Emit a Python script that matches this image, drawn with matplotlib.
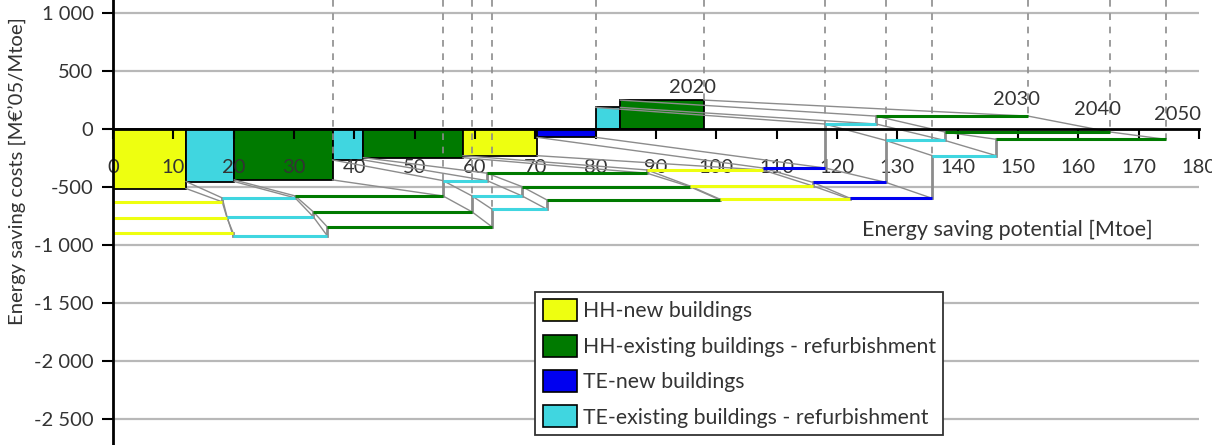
import numpy as np
import matplotlib.pyplot as plt
from matplotlib.patches import Patch

plt.rcParams['font.family'] = ['Lato', 'DejaVu Sans']

# categories and colours
cat_names = ['HH-new buildings', 'HH-existing buildings - refurbishment',
             'TE-new buildings', 'TE-existing buildings - refurbishment']
cat_colors = ['#EEFF10', '#007A00', '#0000F0', '#40D6E0']

# order of measures along every curve (index into cat_names)
seg_cats = [0, 3, 1, 3, 1, 0, 2, 3, 1]

years = [2020, 2030, 2040, 2050]
# cumulative potential at the end of each step [Mtoe]
ends_2020 = [12.1, 20.1, 36.4, 41.5, 58.0, 70.3, 80.0, 84.1, 98.0]
ends_2030 = [18.1, 30.2, 54.7, 62.0, 88.5, 107.7, 118.0, 126.5, 151.7]
ends_2040 = [18.9, 33.2, 59.5, 67.8, 95.6, 116.0, 128.1, 137.9, 165.3]
ends_2050 = [19.9, 35.5, 62.8, 71.9, 100.6, 122.2, 135.8, 146.4, 174.5]
# saving costs of each step [M€'05/Mtoe]
costs_2020 = [-510, -450, -436, -264, -244, -227, -69, 189, 252]
costs_2030 = [-625, -591, -574, -442, -378, -350, -333, 46, 114]
costs_2040 = [-763, -754, -711, -574, -494, -488, -457, -96, -23]
costs_2050 = [-892, -917, -840, -688, -608, -602, -595, -227, -86]

x_ticks = list(range(0, 181, 10))
y_ticks = [1000, 500, 0, -500, -1000, -1500, -2000, -2500]
y_tick_labels = ['1 000', '500', '0', '-500', '-1 000', '-1 500', '-2 000', '-2 500']

all_ends = [ends_2020, ends_2030, ends_2040, ends_2050]
all_costs = [costs_2020, costs_2030, costs_2040, costs_2050]
breaks = [2, 6, 8]  # steps after which the curve jumps (dashed markers)

GRAY = '#8c8c8c'
TXT = '#333333'
YTOP = 1115

fig = plt.figure(figsize=(12.12, 4.45), dpi=100)
ax = fig.add_axes([113 / 1212, 0, 1086 / 1212, 1])
ax.set_xlim(0, 180)
ax.set_ylim(-2721, YTOP)

for y in y_ticks:
    if y != 0:
        ax.axhline(y, color='#b8b8b8', lw=1.6, zorder=0.5)

starts = [[0] + e[:-1] for e in all_ends]

# 2020 as bars
e0, c0, s0 = all_ends[0], all_costs[0], starts[0]
for i in range(len(e0)):
    ax.bar(s0[i], c0[i], width=e0[i] - s0[i], align='edge',
           color=cat_colors[seg_cats[i]], edgecolor='black', lw=1.3, zorder=1)

# later years as step lines
for k in range(1, len(years)):
    e, c, s = all_ends[k], all_costs[k], starts[k]
    for i in range(len(e)):
        ax.plot([s[i], e[i]], [c[i], c[i]], color=cat_colors[seg_cats[i]],
                lw=2.2, zorder=3, solid_capstyle='butt')
        if i + 1 < len(e):
            ax.plot([e[i], e[i]], [c[i], c[i + 1]], color=GRAY, lw=2, zorder=2.6)

# connectors between years
for k in range(len(years) - 1):
    for i in range(len(seg_cats)):
        ax.plot([starts[k][i], starts[k + 1][i]], [all_costs[k][i], all_costs[k + 1][i]],
                color=GRAY, lw=1, zorder=2)
        ax.plot([all_ends[k][i], all_ends[k + 1][i]], [all_costs[k][i], all_costs[k + 1][i]],
                color=GRAY, lw=1, zorder=2)

# dashed markers
for k in range(len(years)):
    e, c = all_ends[k], all_costs[k]
    for b in breaks:
        low = c[b] if b + 1 >= len(c) else max(c[b], c[b + 1])
        ax.plot([e[b], e[b]], [YTOP, low], color=GRAY, lw=1.2, ls=(0, (4, 4)), zorder=2.2)

# year labels
label_pos = [(96.0, 290), (149.8, 180), (163.1, 100), (176.5, 56)]
for yr, (lx, ly) in zip(years, label_pos):
    ax.text(lx, ly, str(yr), ha='center', va='bottom', fontsize=14.5, color=TXT, zorder=4)

ax.text(148.2, -866, 'Energy saving potential [Mtoe]', ha='center', va='center',
        fontsize=15.5, color=TXT)
fig.text(18 / 1212, 1 - 171 / 445, 'Energy saving costs [M€’05/Mtoe]', rotation=90,
         ha='center', va='center', fontsize=14.6, color=TXT)

for side in ['top', 'right']:
    ax.spines[side].set_visible(False)
ax.spines['bottom'].set_position(('data', 0))
ax.spines['bottom'].set_linewidth(2)
ax.spines['left'].set_linewidth(2)
ax.spines['bottom'].set_zorder(4)
ax.spines['left'].set_zorder(4)

ax.set_xticks(x_ticks)
ax.set_xticklabels([str(t) for t in x_ticks])
ax.set_yticks(y_ticks)
ax.set_yticklabels(y_tick_labels)
ax.tick_params(axis='x', direction='out', length=7, width=1.5, pad=14, labelsize=14.5,
               labelcolor=TXT)
ax.tick_params(axis='y', direction='out', length=8, width=1.5, pad=6, labelsize=14.5,
               labelcolor=TXT)
for lab in ax.get_xticklabels():
    lab.set_zorder(4)

handles = [Patch(facecolor=col, edgecolor='black', lw=1.2) for col in cat_colors]
leg = ax.legend(handles, cat_names, loc='lower left', bbox_to_anchor=(0.389, 0.0225),
                borderaxespad=0, fontsize=15.3, handlelength=1.6, handleheight=1.22,
                handletextpad=0.28, labelspacing=0.62, borderpad=0.35, fancybox=False,
                framealpha=1, edgecolor=TXT)
leg.get_frame().set_linewidth(1.3)
leg.set_zorder(6)
for t in leg.get_texts():
    t.set_color(TXT)

fig.savefig('out.png', dpi=100)
